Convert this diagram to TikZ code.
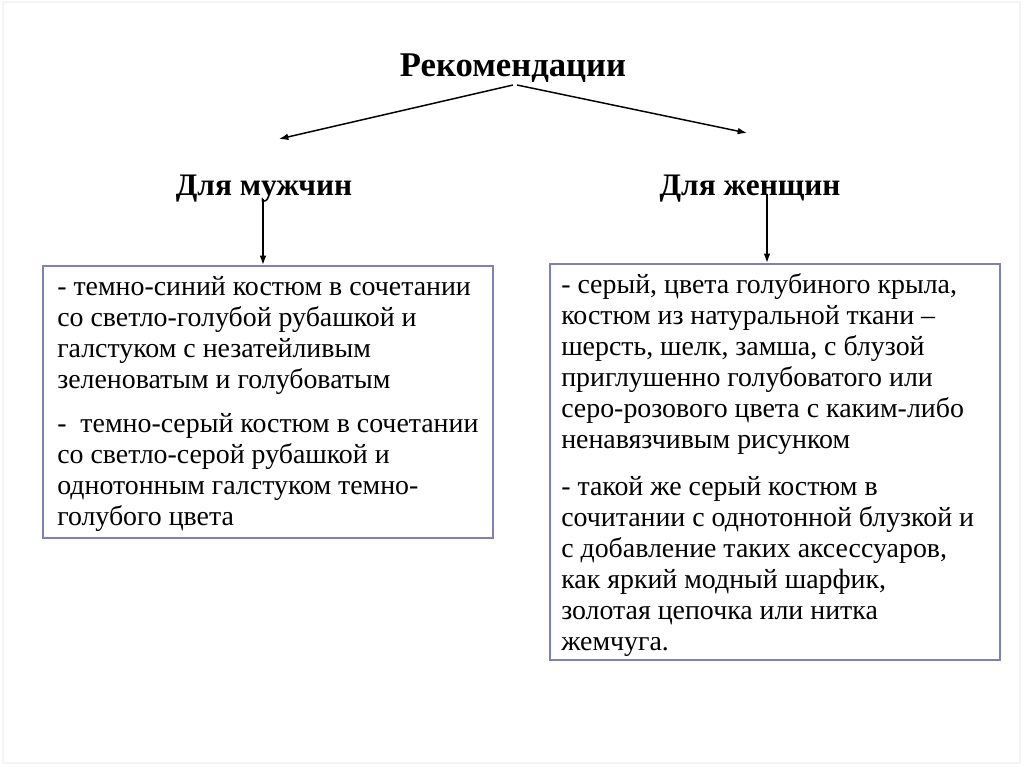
\documentclass[tikz,border=0pt]{standalone}
\usepackage{fontspec}
\setmainfont{Liberation Serif}
\usetikzlibrary{arrows.meta}
\definecolor{boxline}{RGB}{128,128,184}
\definecolor{frameline}{RGB}{244,244,244}
\tikzset{
  conn/.style={line width=1.1pt,-{Latex[length=7pt,width=5pt]}},
  headtxt/.style={font=\bfseries\fontsize{23.5}{26}\selectfont,inner sep=0pt},
  titletxt/.style={font=\bfseries\fontsize{26}{28}\selectfont,inner sep=0pt},
  bodytxt/.style={font=\fontsize{20.9}{23.25}\selectfont,align=left,inner sep=0pt,anchor=north west},
  recbox/.style={draw=boxline,line width=1.4pt,inner sep=0pt},
}
\begin{document}
\begin{tikzpicture}[x=0.75pt,y=-0.75pt]
\useasboundingbox (0,0) rectangle (1024,767);
\draw[frameline,line width=0.8pt] (3,2) rectangle (1020,763);
\node[titletxt] (title) at (513,68) {Рекомендации};
\node[headtxt] (men) at (264,189) {Для мужчин};
\node[headtxt] (women) at (750,189) {Для женщин};
\coordinate (tl) at (513,85);
\coordinate (tr) at (517,85);
\coordinate (menend) at (279,139);
\coordinate (womenend) at (747,133);
\draw[conn] (tl) -- (menend);
\draw[conn] (tr) -- (womenend);
\node[recbox,minimum width=337.5pt,minimum height=204pt,anchor=north west] (lbox) at (42,265) {};
\node[recbox,minimum width=337.5pt,minimum height=297pt,anchor=north west] (rbox) at (549,263) {};
\coordinate (ms) at (263,199);
\coordinate (ws) at (767,194);
\draw[conn] (ms) -- (ms |- lbox.north);
\draw[conn] (ws) -- (ws |- rbox.north);
\node[bodytxt] (ltext) at (57,276) {- темно-синий костюм в сочетании\\
со светло-голубой рубашкой и\\
галстуком с незатейливым\\
зеленоватым и голубоватым\\[10pt]
-\ \ темно-серый костюм в сочетании\\
со светло-серой рубашкой и\\
однотонным галстуком темно-\\
голубого цвета};
\node[bodytxt] (rtext) at (561,273) {- серый, цвета голубиного крыла,\\
костюм из натуральной ткани –\\
шерсть, шелк, замша, с блузой\\
приглушенно голубоватого или\\
серо-розового цвета с каким-либо\\
ненавязчивым рисунком\\[12pt]
- такой же серый костюм в\\
сочитании с однотонной блузкой и\\
с добавление таких аксессуаров,\\
как яркий модный шарфик,\\
золотая цепочка или нитка\\
жемчуга.};
\end{tikzpicture}
\end{document}
